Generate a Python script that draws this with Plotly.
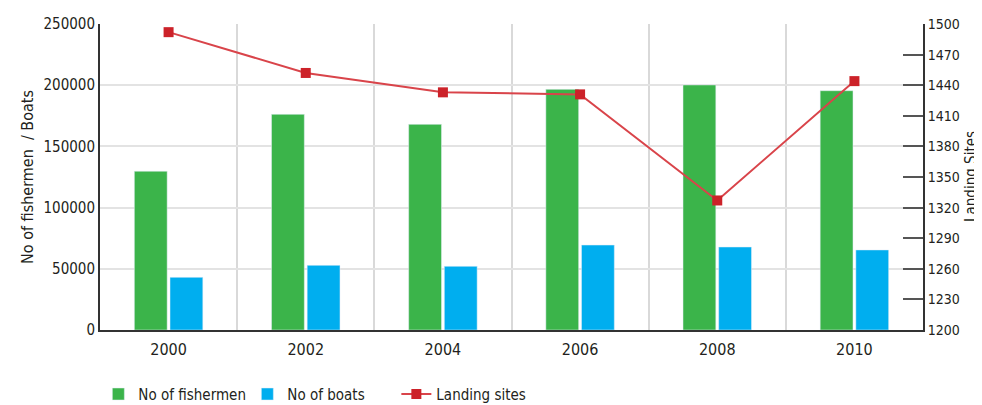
import plotly.graph_objects as go

years = [2000, 2002, 2004, 2006, 2008, 2010]
fishermen = [129700, 176200, 168000, 196600, 200200, 195500]
boats = [43000, 52800, 52000, 69400, 67800, 65400]
landing_sites = [1492, 1452, 1433, 1431, 1327, 1444]
left_ticks = [0, 50000, 100000, 150000, 200000, 250000]
right_ticks = [1200, 1230, 1260, 1290, 1320, 1350, 1380, 1410, 1440, 1470, 1500]

FONT = "DejaVu Sans Condensed, Roboto, sans-serif"
TXT = "#231f20"

fig = go.Figure()
fig.add_trace(go.Bar(x=years, y=fishermen, name="No of fishermen", marker_color="#3bb44a"))
fig.add_trace(go.Bar(x=years, y=boats, name="No of boats", marker_color="#00aeef"))
fig.add_trace(go.Scatter(x=years, y=landing_sites, name="Landing sites", yaxis="y2",
                         mode="lines+markers",
                         line=dict(color="#d9444a", width=2),
                         marker=dict(symbol="square", size=10, color="#cc2229")))

fig.update_layout(
    width=974, height=397,
    margin=dict(l=92, r=59, t=16, b=75, autoexpand=False),
    paper_bgcolor="white", plot_bgcolor="white",
    font=dict(family=FONT, size=15, color=TXT),
    barmode="group", bargap=0.48, bargroupgap=0.08,
    showlegend=True,
    legend=dict(orientation="h", x=-0.002, xanchor="left", y=-0.21, yanchor="middle",
                font=dict(size=15, family=FONT), entrywidth=104, traceorder="normal"),
    xaxis=dict(range=[1999, 2011], tickvals=years, ticktext=[str(y) for y in years],
               tickfont=dict(size=16), ticklabelstandoff=4,
               showgrid=False, showline=True, linecolor="#333333", linewidth=2,
               ticks="", zeroline=False,
               minor=dict(tick0=1999, dtick=2, showgrid=True, gridcolor="#d9d9d9", gridwidth=1.5, ticks="")),
    yaxis=dict(range=[0, 250000], tickvals=left_ticks, ticktext=[str(v) for v in left_ticks],
               tickfont=dict(size=15),
               showgrid=True, gridcolor="#e3e3e3", gridwidth=2,
               showline=True, linecolor="#333333", linewidth=2, zeroline=False,
               title=dict(text="No of fishermen  / Boats", standoff=6, font=dict(size=16))),
    yaxis2=dict(range=[1200, 1500], tickvals=right_ticks, overlaying="y", side="right",
                tickfont=dict(size=14),
                showgrid=False, showline=True, linecolor="#333333", linewidth=2,
                ticks="inside", ticklen=20, tickwidth=2, tickcolor="#555555", zeroline=False),
    annotations=[dict(text="Landing Sites", textangle=-90, xref="paper", yref="paper",
                      x=(963 - 92) / 823, y=0.5, xanchor="center", yanchor="middle",
                      showarrow=False, font=dict(size=15, family=FONT, color=TXT))],
)

fig.write_html("out.html")
